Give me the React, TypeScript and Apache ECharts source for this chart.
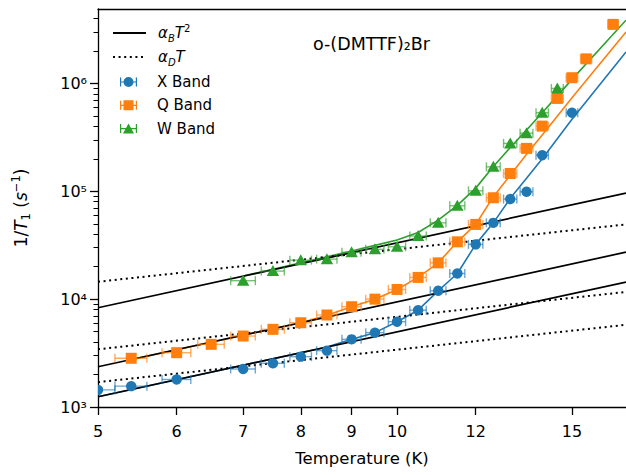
import React, { useEffect, useRef } from 'react';
import * as echarts from 'echarts';

// ---- data ----
const tempError = 0.2; // K, horizontal error bar half-width

const xBandT = [5, 5.4, 6, 7, 7.5, 8, 8.5, 9, 9.5, 10, 10.5, 11, 11.5, 12, 12.5, 13, 13.5, 14, 15];
const xBandRate = [1440, 1560, 1800, 2250, 2540, 2930, 3330, 4240, 4890, 6180, 7900, 11950, 17300, 32200, 51000, 84700, 99000, 216000, 535000];

const qBandT = [5.4, 6, 6.5, 7, 7.5, 8, 8.5, 9, 9.5, 10, 10.5, 11, 11.5, 12, 12.5, 13, 13.5, 14, 14.5, 15, 15.5, 16.5];
const qBandRate = [2830, 3190, 3810, 4550, 5250, 6040, 7130, 8510, 10000, 12300, 15900, 21700, 34000, 49300, 87100, 146500, 250000, 402000, 726000, 1130000, 1690000, 3530000];

const wBandT = [7, 7.5, 8, 8.5, 9, 9.5, 10, 10.5, 11, 11.5, 12, 12.5, 13, 13.5, 14, 14.5];
const wBandRate = [14830, 18200, 23000, 23500, 27200, 29000, 30600, 38500, 51000, 73400, 101000, 168600, 278000, 346000, 535000, 899000];

const xFitT = [5, 6, 7, 8, 8.5, 9, 9.5, 10, 10.5, 11, 11.5, 12, 12.5, 13, 13.5, 14, 15, 17];
const xFitRate = [1245, 1790, 2440, 3190, 3600, 4240, 4890, 6180, 7900, 11950, 17300, 32200, 51000, 86000, 132000, 200000, 465000, 1960000];

const qFitT = [5.4, 6, 6.5, 7, 7.5, 8, 8.5, 9, 9.5, 10, 10.5, 11, 11.5, 12, 12.5, 13, 13.5, 14, 15, 17];
const qFitRate = [2750, 3400, 3990, 4630, 5310, 6050, 7100, 8500, 10000, 12300, 15900, 21700, 34000, 49300, 89000, 141000, 220000, 333000, 738000, 3000000];

const wFitT = [7, 7.5, 8, 8.5, 9, 9.5, 10, 10.5, 11, 11.5, 12, 12.5, 13, 13.5, 14, 15, 17];
const wFitRate = [16400, 18900, 21700, 24700, 28000, 31500, 35300, 41500, 54000, 74000, 107000, 170000, 255000, 370000, 535000, 1090000, 3860000];

// alpha_B T^2 (solid) and alpha_D T (dotted) reference lines, end points at T = 5 and T = 17
const refLineT = [5, 17];
const xBLine = [1245, 14390];
const qBLine = [2360, 27280];
const wBLine = [8320, 96170];
const xDLine = [1700, 5780];
const qDLine = [3430, 11660];
const wDLine = [14500, 49300];

const xTicks = [5, 6, 7, 8, 9, 10, 12, 15];
const yMajorTicks = [1e3, 1e4, 1e5, 1e6];
const yMinorTicks = [
  2e3, 3e3, 4e3, 5e3, 6e3, 7e3, 8e3, 9e3,
  2e4, 3e4, 4e4, 5e4, 6e4, 7e4, 8e4, 9e4,
  2e5, 3e5, 4e5, 5e5, 6e5, 7e5, 8e5, 9e5,
  2e6, 3e6, 4e6,
];
const superscripts: Record<string, string> = { '3': '³', '4': '⁴', '5': '⁵', '6': '⁶' };

const BLUE = '#1f77b4';
const ORANGE = '#ff7f0e';
const GREEN = '#2ca02c';
const FONT = 'DejaVu Sans';

const pairs = (t: number[], v: number[]) => t.map((x, i) => [x, v[i]]);

const ICON_CIRCLE =
  'path://M0 0.5H1.2V9.5H0Z M15.8 0.5H17V9.5H15.8Z M0 4.4H17V5.6H0Z M3.5 5A5 5 0 1 1 13.5 5A5 5 0 1 1 3.5 5Z';
const ICON_SQUARE =
  'path://M0 0.5H1.2V9.5H0Z M15.8 0.5H17V9.5H15.8Z M0 4.4H17V5.6H0Z M3.5 0H13.5V10H3.5Z';
const ICON_TRIANGLE =
  'path://M0 0.5H1.2V9.5H0Z M15.8 0.5H17V9.5H15.8Z M0 4.4H17V5.6H0Z M8.5 0L14 10H3Z';

function errorSeries(name: string, t: number[], v: number[], color: string, shape: string) {
  return {
    type: 'custom',
    name,
    clip: true,
    z: 5,
    itemStyle: { color },
    data: pairs(t, v),
    encode: { x: 0, y: 1 },
    renderItem: (_params: any, api: any) => {
      const tv = api.value(0);
      const rv = api.value(1);
      const c = api.coord([tv, rv]);
      const l = api.coord([tv - tempError, rv]);
      const r = api.coord([tv + tempError, rv]);
      const barStyle = { stroke: color, lineWidth: 1.4, opacity: 0.65 };
      const children: any[] = [
        { type: 'line', shape: { x1: l[0], y1: c[1], x2: r[0], y2: c[1] }, style: barStyle },
        { type: 'line', shape: { x1: l[0], y1: c[1] - 4.5, x2: l[0], y2: c[1] + 4.5 }, style: barStyle },
        { type: 'line', shape: { x1: r[0], y1: c[1] - 4.5, x2: r[0], y2: c[1] + 4.5 }, style: barStyle },
      ];
      if (shape === 'circle') {
        children.push({ type: 'circle', shape: { cx: c[0], cy: c[1], r: 5.2 }, style: { fill: color } });
      } else if (shape === 'square') {
        children.push({ type: 'rect', shape: { x: c[0] - 5.5, y: c[1] - 5.5, width: 11, height: 11 }, style: { fill: color } });
      } else {
        children.push({
          type: 'polygon',
          shape: { points: [[c[0], c[1] - 6], [c[0] - 6.2, c[1] + 5], [c[0] + 6.2, c[1] + 5]] },
          style: { fill: color },
        });
      }
      return { type: 'group', children };
    },
  };
}

function fitSeries(name: string, t: number[], v: number[], color: string) {
  return {
    type: 'line',
    name,
    data: pairs(t, v),
    symbol: 'none',
    z: 2,
    lineStyle: { color, width: 1.6 },
    itemStyle: { color },
  };
}

function refSeries(name: string, v: number[], dotted: boolean) {
  return {
    type: 'line',
    name,
    data: pairs(refLineT, v),
    symbol: 'none',
    z: 3,
    lineStyle: { color: '#000', width: dotted ? 2 : 1.7, type: dotted ? [2, 3.6] : 'solid' },
    itemStyle: { color: '#000' },
  };
}

const legendRich = {
  i: { fontStyle: 'italic', fontSize: 15, fontFamily: FONT, color: '#000', lineHeight: 20, verticalAlign: 'middle' },
  s: { fontStyle: 'italic', fontSize: 10, fontFamily: FONT, color: '#000', lineHeight: 10, verticalAlign: 'bottom' },
  p: { fontSize: 10, fontFamily: FONT, color: '#000', lineHeight: 10, verticalAlign: 'top' },
};

export default function App() {
  const ref = useRef<HTMLDivElement>(null);
  useEffect(() => {
    if (!ref.current) return;
    const chart = echarts.init(ref.current, undefined, { renderer: 'svg' });
    chart.setOption({
      animation: false,
      textStyle: { fontFamily: FONT },
      title: {
        text: 'o-(DMTTF)₂Br',
        left: 308,
        top: 30,
        textStyle: { fontSize: 17.5, fontWeight: 'normal', color: '#000', fontFamily: FONT },
      },
      grid: { left: 98, right: 0, top: 9, bottom: 68 },
      legend: [
        {
          data: ['aB', 'aD'],
          orient: 'vertical',
          left: 107,
          top: 18,
          itemWidth: 33,
          itemHeight: 10,
          itemGap: 6.5,
          selectedMode: false,
          itemStyle: { opacity: 0 },
          formatter: (n: string) => (n === 'aB' ? '{i|α}{s|B}{i|T}{p|2}' : '{i|α}{s|D}{i|T}'),
          textStyle: { padding: [0, 0, 0, 7], rich: legendRich, fontSize: 15, color: '#000' },
        },
        {
          data: [
            { name: 'X Band', icon: ICON_CIRCLE },
            { name: 'Q Band', icon: ICON_SQUARE },
            { name: 'W Band', icon: ICON_TRIANGLE },
          ],
          orient: 'vertical',
          left: 115,
          top: 68,
          itemWidth: 17,
          itemHeight: 10,
          itemGap: 5.3,
          selectedMode: false,
          textStyle: { padding: [0, 0, 0, 15], fontSize: 15, color: '#000', fontFamily: FONT, lineHeight: 18 },
        },
      ],
      xAxis: [
        {
          type: 'log',
          min: 5,
          max: 17,
          position: 'bottom',
          axisLine: { lineStyle: { color: '#000', width: 1.3 } },
          axisTick: { customValues: xTicks, length: 8, lineStyle: { color: '#000', width: 1.3 } },
          axisLabel: { customValues: xTicks, fontSize: 16, color: '#000', margin: 16, fontFamily: FONT },
          minorTick: { show: false },
          splitLine: { show: false },
          name: 'Temperature (K)',
          nameLocation: 'middle',
          nameGap: 43,
          nameTextStyle: { fontSize: 16.5, color: '#000', fontFamily: FONT },
        },
        {
          type: 'log',
          min: 5,
          max: 17,
          position: 'top',
          axisLine: { lineStyle: { color: '#000', width: 1.3 } },
          axisTick: { show: false },
          axisLabel: { show: false },
          splitLine: { show: false },
        },
      ],
      yAxis: [
        {
          type: 'log',
          min: 1000,
          max: 4.9e6,
          position: 'left',
          axisLine: { show: true, lineStyle: { color: '#000', width: 1.3 } },
          axisTick: { customValues: yMajorTicks, length: 8, lineStyle: { color: '#000', width: 1.3 } },
          axisLabel: {
            customValues: yMajorTicks,
            fontSize: 16,
            color: '#000',
            margin: 11,
            fontFamily: FONT,
            formatter: (v: number) => '10' + (superscripts[String(Math.round(Math.log10(v)))] || ''),
          },
          splitLine: { show: false },
          name: '1/{i|T}{s|1} ({i|s}{p|−1})',
          nameLocation: 'middle',
          nameGap: 66,
          nameTextStyle: {
            fontSize: 17,
            color: '#000',
            fontFamily: FONT,
            rich: {
              i: { fontStyle: 'italic', fontSize: 17, fontFamily: FONT, color: '#000', lineHeight: 22, verticalAlign: 'middle' },
              s: { fontSize: 11.5, fontFamily: FONT, color: '#000', lineHeight: 11, verticalAlign: 'bottom' },
              p: { fontSize: 11.5, fontFamily: FONT, color: '#000', lineHeight: 11, verticalAlign: 'top' },
            },
          },
        },
        {
          type: 'log',
          min: 1000,
          max: 4.9e6,
          position: 'left',
          axisLine: { show: false },
          axisTick: { customValues: yMinorTicks, length: 4.5, lineStyle: { color: '#000', width: 1 } },
          axisLabel: { show: false },
          splitLine: { show: false },
        },
      ],
      series: [
        fitSeries('fitX', xFitT, xFitRate, BLUE),
        fitSeries('fitQ', qFitT, qFitRate, ORANGE),
        fitSeries('fitW', wFitT, wFitRate, GREEN),
        refSeries('aB', xBLine, false),
        refSeries('aB', qBLine, false),
        refSeries('aB', wBLine, false),
        refSeries('aD', xDLine, true),
        refSeries('aD', qDLine, true),
        refSeries('aD', wDLine, true),
        errorSeries('X Band', xBandT, xBandRate, BLUE, 'circle'),
        errorSeries('Q Band', qBandT, qBandRate, ORANGE, 'square'),
        errorSeries('W Band', wBandT, wBandRate, GREEN, 'triangle'),
      ],
    });
    return () => chart.dispose();
  }, []);
  return <div ref={ref} style={{ position: 'absolute', left: 0, top: 0, width: 626, height: 475 }} />;
}
